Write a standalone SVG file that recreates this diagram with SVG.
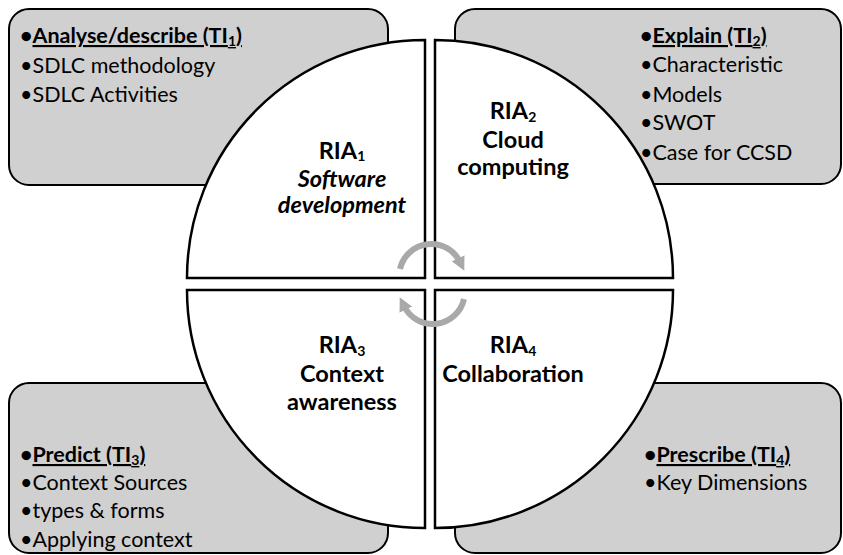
<svg xmlns="http://www.w3.org/2000/svg" width="843" height="555" viewBox="0 0 843 555">
  <defs>
    <marker id="cycleHead" viewBox="0 0 10 10" refX="3" refY="5" markerUnits="userSpaceOnUse" markerWidth="14" markerHeight="14" orient="auto">
      <path d="M0,0 L10,5 L0,10 z" fill="#a9a9a9"/>
    </marker>
    <style>
      .box { fill: #d0d0d0; stroke: #000; stroke-width: 2; }
      .quad { fill: #fff; stroke: #000; stroke-width: 2.5; }
      .list { font-family: Lato, "Liberation Sans", sans-serif; font-size: 21.5px; fill: #000; }
      .head { font-weight: bold; }
      .ul { text-decoration: underline; }
      .ria { font-family: Lato, "Liberation Sans", sans-serif; font-size: 23.5px; font-weight: bold; fill: #000; text-anchor: middle; }
      .sub { font-size: 14px; }
      .cycle { fill: none; stroke: #a9a9a9; stroke-width: 6; }
    </style>
  </defs>

  <!-- outer information boxes -->
  <g id="box-ti1">
    <rect class="box" x="9" y="9" width="379" height="176" rx="20"/>
    <text class="list" x="20" y="43"><tspan class="head">•<tspan class="ul">Analyse/describe (TI<tspan class="sub" dy="3">1</tspan><tspan dy="-3">)</tspan></tspan></tspan></text>
    <text class="list" x="20" y="73">•SDLC methodology</text>
    <text class="list" x="20" y="102">•SDLC Activities</text>
  </g>
  <g id="box-ti2">
    <rect class="box" x="455" y="9" width="386" height="175" rx="20"/>
    <text class="list" x="640" y="43"><tspan class="head">•<tspan class="ul">Explain (TI<tspan class="sub" dy="3">2</tspan><tspan dy="-3">)</tspan></tspan></tspan></text>
    <text class="list" x="640" y="72">•Characteristic</text>
    <text class="list" x="640" y="102">•Models</text>
    <text class="list" x="640" y="130">•SWOT</text>
    <text class="list" x="640" y="160">•Case for CCSD</text>
  </g>
  <g id="box-ti3">
    <rect class="box" x="9" y="383" width="379" height="170" rx="20"/>
    <text class="list" x="20" y="462"><tspan class="head">•<tspan class="ul">Predict (TI<tspan class="sub" dy="3">3</tspan><tspan dy="-3">)</tspan></tspan></tspan></text>
    <text class="list" x="20" y="490">•Context Sources</text>
    <text class="list" x="20" y="518">•types &amp; forms</text>
    <text class="list" x="20" y="547">•Applying context</text>
  </g>
  <g id="box-ti4">
    <rect class="box" x="455" y="383" width="386" height="170" rx="20"/>
    <text class="list" x="644" y="462"><tspan class="head">•<tspan class="ul">Prescribe (TI<tspan class="sub" dy="3">4</tspan><tspan dy="-3">)</tspan></tspan></tspan></text>
    <text class="list" x="644" y="490">•Key Dimensions</text>
  </g>

  <!-- central circle split into four quarters -->
  <g id="ria1">
    <path class="quad" d="M425 278 L187 278 A238 238 0 0 1 425 40 Z"/>
    <text class="ria" x="342" y="159">RIA<tspan class="sub" dy="2">1</tspan></text>
    <text class="ria" x="342" y="187" font-style="italic">Software</text>
    <text class="ria" x="342" y="213" font-style="italic">development</text>
  </g>
  <g id="ria2">
    <path class="quad" d="M435 278 L435 40 A238 238 0 0 1 673 278 Z"/>
    <text class="ria" x="513" y="119">RIA<tspan class="sub" dy="3">2</tspan></text>
    <text class="ria" x="513" y="148">Cloud</text>
    <text class="ria" x="513" y="175">computing</text>
  </g>
  <g id="ria3">
    <path class="quad" d="M425 290 L425 528 A238 238 0 0 1 187 290 Z"/>
    <text class="ria" x="342" y="353">RIA<tspan class="sub" dy="3">3</tspan></text>
    <text class="ria" x="342" y="382">Context</text>
    <text class="ria" x="342" y="410">awareness</text>
  </g>
  <g id="ria4">
    <path class="quad" d="M435 290 L673 290 A238 238 0 0 1 435 528 Z"/>
    <text class="ria" x="513" y="353">RIA<tspan class="sub" dy="3">4</tspan></text>
    <text class="ria" x="513" y="382">Collaboration</text>
  </g>

  <!-- cycle arrows -->
  <g id="connectors">
    <path class="cycle" d="M400 269 A32 32 0 0 1 460 262" marker-end="url(#cycleHead)"/>
    <path class="cycle" d="M464 299 A32 32 0 0 1 404 306" marker-end="url(#cycleHead)"/>
  </g>
</svg>
